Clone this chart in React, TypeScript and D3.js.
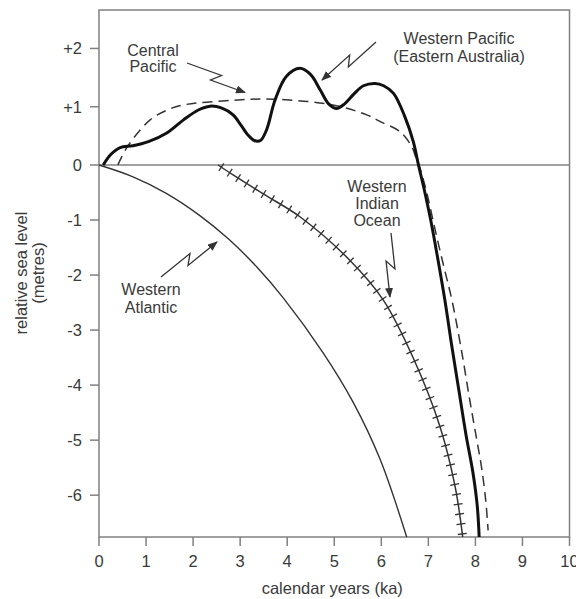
import React, { useEffect, useRef } from 'react';
import * as d3 from 'd3';

const xTickValues = [0, 1, 2, 3, 4, 5, 6, 7, 8, 9, 10];
const yTickValues = [2, 1, 0, -1, -2, -3, -4, -5, -6];
const yTickLabels = ['+2', '+1', '0', '-1', '-2', '-3', '-4', '-5', '-6'];

// Western Pacific (Eastern Australia) – thick solid
const westernPacificX = [0.09, 0.25, 0.45, 0.72, 1.05, 1.44, 1.79, 2.1, 2.36, 2.6, 2.85, 3.02, 3.16, 3.3, 3.43, 3.56, 3.74, 3.98, 4.27, 4.5, 4.7, 4.88, 5.05, 5.22, 5.42, 5.62, 5.87, 6.05, 6.26, 6.5, 6.68, 6.79, 6.9, 7.05, 7.2, 7.35, 7.5, 7.65, 7.8, 7.95, 8.04, 8.08];
const westernPacificY = [0, 0.18, 0.3, 0.33, 0.4, 0.55, 0.77, 0.94, 1.01, 0.98, 0.86, 0.68, 0.52, 0.42, 0.42, 0.6, 1.11, 1.52, 1.66, 1.55, 1.29, 1.05, 0.97, 1.05, 1.22, 1.36, 1.4, 1.36, 1.23, 0.83, 0.4, 0, -0.4, -1.0, -1.7, -2.45, -3.3, -4.1, -4.9, -5.6, -6.2, -6.76];

// Central Pacific – dashed
const centralPacificX = [0.4, 0.6, 1.08, 1.44, 1.79, 2.85, 3.7, 4.97, 5.69, 5.99, 6.4, 6.65, 6.75, 6.8, 6.96, 7.15, 7.33, 7.5, 7.7, 7.88, 8.02, 8.13, 8.22, 8.27];
const centralPacificY = [0, 0.31, 0.77, 0.94, 1.03, 1.11, 1.13, 1.03, 0.86, 0.74, 0.57, 0.31, 0.09, 0, -0.48, -1.2, -1.85, -2.45, -3.35, -4.27, -4.95, -5.49, -6.1, -6.64];

// Western Indian Ocean – hatched
const westernIndianX = [2.53, 2.85, 3.5, 4.27, 5.33, 6.04, 6.67, 7.25, 7.57, 7.73];
const westernIndianY = [0, -0.18, -0.53, -0.94, -1.73, -2.45, -3.49, -4.76, -5.85, -6.76];

// Western Atlantic – thin solid
const westernAtlanticX = [0, 0.71, 1.42, 2.13, 2.76, 3.35, 3.92, 4.76, 5.4, 5.97, 6.54];
const westernAtlanticY = [0, -0.21, -0.51, -0.91, -1.35, -1.85, -2.42, -3.41, -4.31, -5.34, -6.76];

const FONT = '"Liberation Sans", Arial, Helvetica, sans-serif';
const TEXT = '#3a3a3a';
const AXIS = '#808080';

type P = [number, number];

function boltPath(S: P, E: P, t1 = 0.56, t2 = 0.44, h = 4.5): string {
  const dx = E[0] - S[0];
  const dy = E[1] - S[1];
  const len = Math.hypot(dx, dy);
  const ux = dx / len, uy = dy / len;
  const nx = -uy, ny = ux;
  const m1: P = [S[0] + t1 * dx - nx * h, S[1] + t1 * dy - ny * h];
  const m2: P = [S[0] + t2 * dx + nx * h, S[1] + t2 * dy + ny * h];
  return `M${S[0]},${S[1]}L${m1[0]},${m1[1]}L${m2[0]},${m2[1]}L${E[0]},${E[1]}`;
}

export default function App() {
  const ref = useRef<SVGSVGElement | null>(null);

  useEffect(() => {
    const svg = d3.select(ref.current);
    svg.selectAll('*').remove();

    const x = d3.scaleLinear().domain([0, 10]).range([99, 569.5]);
    const y = d3.scaleLinear().domain([-6.76, 0, 2.66]).range([537, 165, 10]);

    const defs = svg.append('defs');
    defs.append('marker')
      .attr('id', 'ah')
      .attr('viewBox', '0 0 10 8')
      .attr('refX', 9)
      .attr('refY', 4)
      .attr('markerWidth', 10)
      .attr('markerHeight', 8)
      .attr('markerUnits', 'userSpaceOnUse')
      .attr('orient', 'auto')
      .append('path')
      .attr('d', 'M0,0L10,4L0,8Z')
      .attr('fill', '#333');

    const [x0, x1] = x.range();
    const yb = y(-6.76), yt = y(2.66);

    svg.append('rect')
      .attr('x', x0).attr('y', yt)
      .attr('width', x1 - x0).attr('height', yb - yt)
      .attr('fill', 'none').attr('stroke', AXIS).attr('stroke-width', 1.5);

    svg.append('line')
      .attr('x1', x0).attr('x2', x1).attr('y1', y(0)).attr('y2', y(0))
      .attr('stroke', AXIS).attr('stroke-width', 1.5);

    const ytG = svg.append('g');
    yTickValues.forEach((v, i) => {
      ytG.append('line')
        .attr('x1', x0 - 9).attr('x2', x0).attr('y1', y(v)).attr('y2', y(v))
        .attr('stroke', AXIS).attr('stroke-width', 1.5);
      ytG.append('text')
        .attr('x', x0 - 17).attr('y', y(v))
        .attr('text-anchor', 'end').attr('dominant-baseline', 'central')
        .attr('font-family', FONT).attr('font-size', 16.5).attr('fill', TEXT)
        .text(yTickLabels[i]);
    });

    const xtG = svg.append('g');
    xTickValues.forEach((v) => {
      xtG.append('line')
        .attr('x1', x(v)).attr('x2', x(v)).attr('y1', yb).attr('y2', yb + 9)
        .attr('stroke', AXIS).attr('stroke-width', 1.5);
      xtG.append('text')
        .attr('x', x(v)).attr('y', yb + 24)
        .attr('text-anchor', 'middle').attr('dominant-baseline', 'central')
        .attr('font-family', FONT).attr('font-size', 16.5).attr('fill', TEXT)
        .text(String(v));
    });

    svg.append('text')
      .attr('x', (x0 + x1) / 2 - 2).attr('y', 588)
      .attr('text-anchor', 'middle').attr('dominant-baseline', 'central')
      .attr('font-family', FONT).attr('font-size', 16.5).attr('fill', TEXT)
      .text('calendar years (ka)');
    const yTitle = svg.append('g').attr('transform', 'translate(21,273) rotate(-90)');
    yTitle.append('text')
      .attr('x', 0).attr('y', 0)
      .attr('text-anchor', 'middle').attr('dominant-baseline', 'central')
      .attr('font-family', FONT).attr('font-size', 16.5).attr('fill', TEXT)
      .text('relative sea level');
    yTitle.append('text')
      .attr('x', 0).attr('y', 17)
      .attr('text-anchor', 'middle').attr('dominant-baseline', 'central')
      .attr('font-family', FONT).attr('font-size', 16.5).attr('fill', TEXT)
      .text('(metres)');

    const line = d3.line<P>()
      .x((d) => x(d[0]))
      .y((d) => y(d[1]))
      .curve(d3.curveCatmullRom.alpha(0.5));

    const zip = (xs: number[], ys: number[]): P[] => xs.map((v, i) => [v, ys[i]]);

    svg.append('path')
      .attr('d', line(zip(westernAtlanticX, westernAtlanticY)))
      .attr('fill', 'none').attr('stroke', '#333').attr('stroke-width', 1.4);

    const wio = svg.append('path')
      .attr('d', line(zip(westernIndianX, westernIndianY)))
      .attr('fill', 'none').attr('stroke', '#333').attr('stroke-width', 1.5);
    const node = wio.node() as SVGPathElement;
    const total = node.getTotalLength();
    const hatch = svg.append('g');
    for (let s = 4; s < total - 2; s += 10) {
      const p = node.getPointAtLength(s);
      const q = node.getPointAtLength(Math.min(total, s + 0.5));
      const pp = node.getPointAtLength(Math.max(0, s - 0.5));
      const tx = q.x - pp.x, ty = q.y - pp.y;
      const tl = Math.hypot(tx, ty) || 1;
      const nx = -ty / tl, ny = tx / tl;
      const hl = 4.5;
      hatch.append('line')
        .attr('x1', p.x - nx * hl).attr('y1', p.y - ny * hl)
        .attr('x2', p.x + nx * hl).attr('y2', p.y + ny * hl)
        .attr('stroke', '#333').attr('stroke-width', 1.3);
    }

    svg.append('path')
      .attr('d', line(zip(centralPacificX, centralPacificY)))
      .attr('fill', 'none').attr('stroke', '#333').attr('stroke-width', 1.5)
      .attr('stroke-dasharray', '10,6');

    svg.append('path')
      .attr('d', line(zip(westernPacificX, westernPacificY)))
      .attr('fill', 'none').attr('stroke', '#111').attr('stroke-width', 3);

    const label = (lines: string[], cx: number, cy: number, lh: number) => {
      lines.forEach((t, i) => {
        svg.append('text')
          .attr('x', cx).attr('y', cy + i * lh)
          .attr('text-anchor', 'middle').attr('dominant-baseline', 'central')
          .attr('font-family', FONT).attr('font-size', 16).attr('fill', TEXT)
          .text(t);
      });
    };
    label(['Central', 'Pacific'], 153, 50, 16.5);
    label(['Western Pacific', '(Eastern Australia)'], 459, 38.5, 18.3);
    label(['Western', 'Indian', 'Ocean'], 377, 186.5, 17);
    label(['Western', 'Atlantic'], 151, 289, 18);

    const arrows: [P, P][] = [
      [[187, 63], [245, 92.5]],
      [[376, 42], [322, 80]],
      [[391, 233], [390, 297]],
      [[161, 277], [217, 242]],
    ];
    arrows.forEach(([S, E]) => {
      svg.append('path')
        .attr('d', boltPath(S, E))
        .attr('fill', 'none').attr('stroke', '#333').attr('stroke-width', 1.3)
        .attr('stroke-linejoin', 'miter')
        .attr('marker-end', 'url(#ah)');
    });
  }, []);

  return (
    <svg
      ref={ref}
      width={576}
      height={599}
      style={{ position: 'absolute', left: 0, top: 0, background: '#fff' }}
    />
  );
}
